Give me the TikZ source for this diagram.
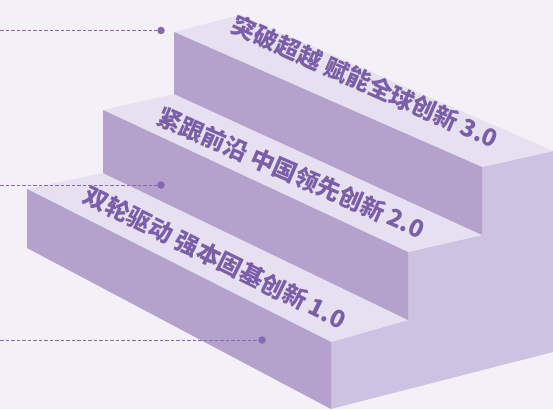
\documentclass[tikz,border=0pt]{standalone}
\usepackage{fontspec}
\newfontfamily\cjk{Noto Sans CJK SC}
\usetikzlibrary{calc}
\definecolor{bgcol}{HTML}{F3F0F7}
\definecolor{frontcol}{HTML}{B4A1CC}
\definecolor{topcol}{HTML}{E7E0F1}
\definecolor{sidecol}{HTML}{CDC2E1}
\definecolor{labelcol}{HTML}{7B5EA8}
\definecolor{guidecol}{HTML}{8767B2}
\tikzset{
  steplabel/.style={font=\cjk\bfseries\fontsize{24}{24}\selectfont, text=labelcol, inner sep=0pt},
  guide/.style={draw=guidecol, dash pattern=on 3.5pt off 2pt, line width=1pt},
  guidedot/.style={circle, fill=guidecol, inner sep=0pt, minimum size=7.5pt}
}

\begin{document}
\begin{tikzpicture}[x=1pt, y=-1pt]
    \useasboundingbox (0,0) rectangle (553,409);
    \fill[bgcol] (0,0) rectangle (553,409);

    \fill[sidecol] (331,342) -- (408,320) -- (408,252) -- (482,235) -- (482,167)
      -- (553,151) -- (553,352) -- (331,409) -- cycle;

    \begin{scope}[fill=topcol]
      \fill (174,32) -- (240,15) -- (553,151) -- (482,167) -- cycle;
      \fill (103,110) -- (174,94) -- (482,235) -- (408,252) -- cycle;
      \fill (27,189) -- (103,173) -- (408,320) -- (331,342) -- cycle;
    \end{scope}
    \begin{scope}[fill=frontcol]
      \fill (174,32) -- (482,167) -- (482,235) -- (174,94) -- cycle;
      \fill (103,110) -- (408,252) -- (408,320) -- (103,173) -- cycle;
      \fill (27,189) -- (331,342) -- (331,409) -- (27,248) -- cycle;
    \end{scope}

    \node[steplabel, rotate=-23.9] (label3) at (365,82) {突破超越 赋能全球创新 3.0};
    \node[steplabel, rotate=-23.5] (label2) at (291,173) {紧跟前沿 中国领先创新 2.0};
    \node[steplabel, rotate=-26.3] (label1) at (215,257.5) {双轮驱动 强本固基创新 1.0};

    \coordinate (start3) at (0,30.5);
    \coordinate (start2) at (0,185);
    \coordinate (start1) at (0,340);
    \node[guidedot] (dot3) at (161,30.5) {};
    \node[guidedot] (dot2) at (161,185) {};
    \node[guidedot] (dot1) at (262,340) {};
    \draw[guide] (start3) -- (dot3);
    \draw[guide] (start2) -- (dot2);
    \draw[guide] (start1) -- (dot1);
\end{tikzpicture}
\end{document}
